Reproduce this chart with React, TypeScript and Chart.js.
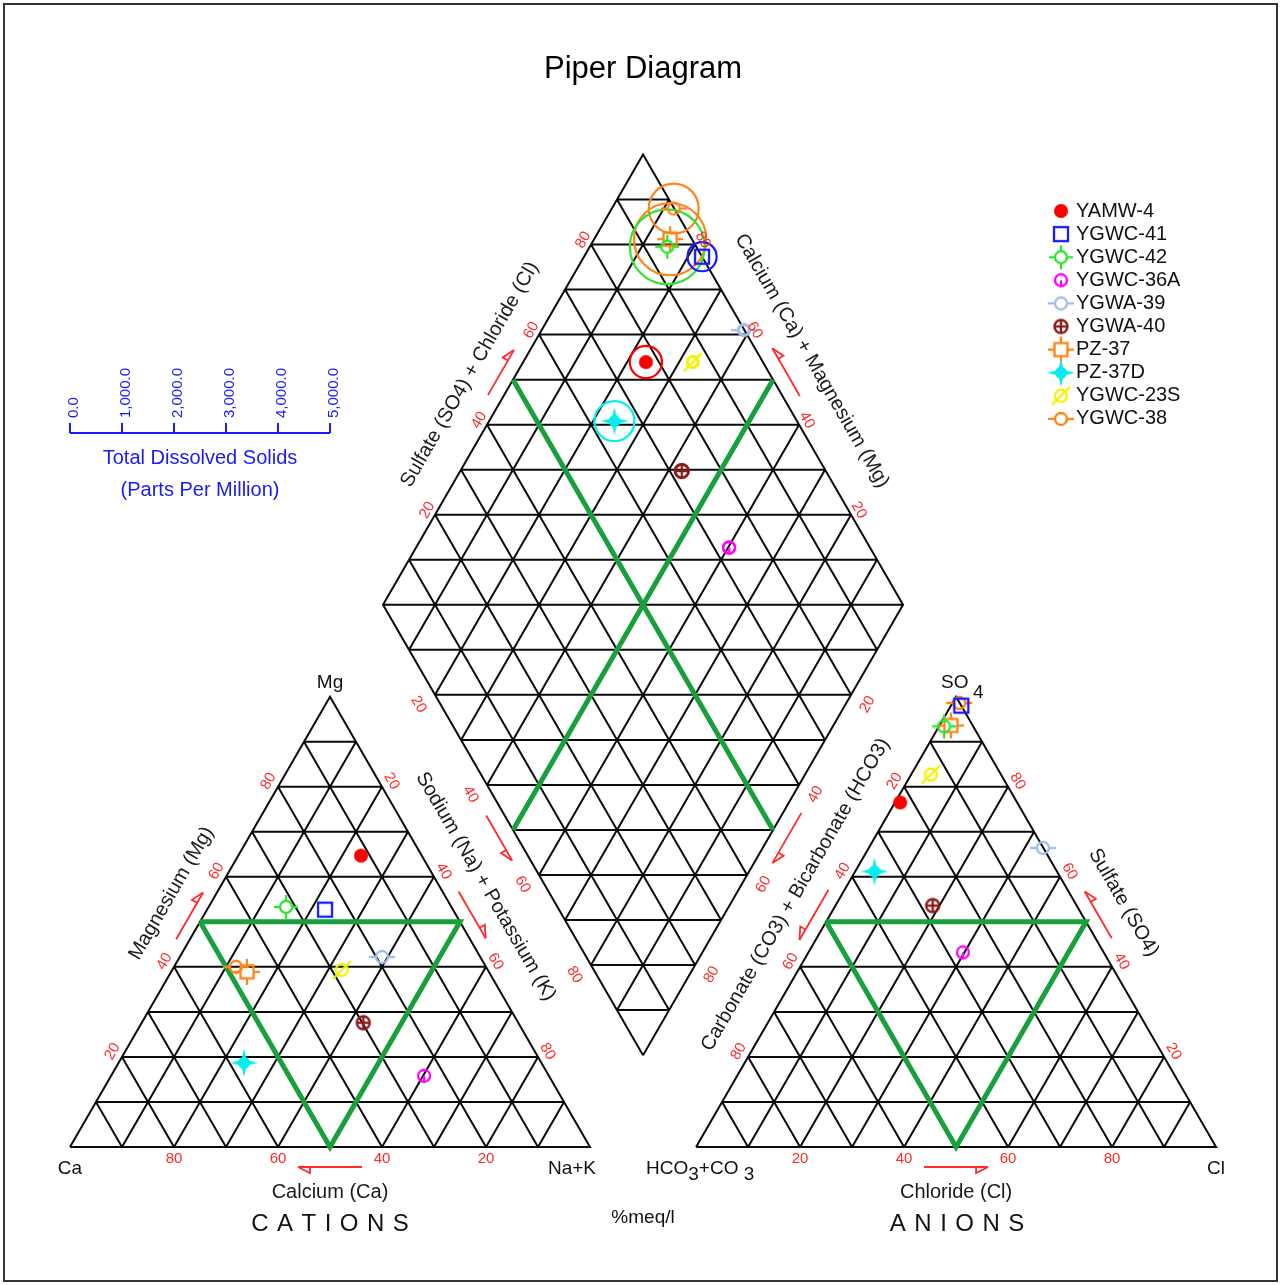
import React, { useEffect, useRef } from 'react';
import { Chart, registerables } from 'chart.js';

Chart.register(...registerables);

// ---------------- DATA ----------------
const sampleNames = ['YAMW-4', 'YGWC-41', 'YGWC-42', 'YGWC-36A', 'YGWA-39', 'YGWA-40', 'PZ-37', 'PZ-37D', 'YGWC-23S', 'YGWC-38'];
const sampleColors = ['#ff0000', '#1a1aff', '#2ee52e', '#ff00ff', '#9fbde8', '#8b1c1c', '#ff8419', '#00eeee', '#f2f200', '#ff8419'];
const markerKinds = ['dot', 'square', 'circleCross', 'circleStem', 'circleDash', 'circlePlus', 'squareCross', 'starDot', 'circleSlash', 'circleDash'];
// cations, % meq/l
const calciumPct = [11.7, 24.6, 31.8, 24.0, 18.9, 29.8, 46.5, 57.2, 28.1, 48.1];
const magnesiumPct = [64.7, 52.7, 53.3, 15.8, 42.2, 27.6, 38.9, 18.7, 39.3, 40.0];
const sodiumPotassiumPct = [23.6, 22.7, 14.9, 60.2, 38.9, 42.6, 14.6, 24.1, 32.6, 11.9];
// anions, % meq/l
const bicarbonatePct = [22.5, 0.0, 5.6, 27.1, 0.1, 27.7, 4.2, 35.1, 13.5, 0.1];
const sulfatePct = [76.5, 98.0, 93.4, 43.2, 66.4, 53.6, 93.6, 61.2, 82.7, 98.6];
const chloridePct = [1.0, 2.0, 1.0, 29.7, 33.5, 18.7, 2.2, 3.7, 3.8, 1.3];
// total dissolved solids, ppm
const tdsPpm = [620, 560, 1440, 230, 190, 270, 1390, 770, 190, 960];
const percentTicks = [20, 40, 60, 80];
const tdsTicks = [0, 1000, 2000, 3000, 4000, 5000];
const TDS_MAX = 5000;

// ---------------- LAYOUT (plot units, triangle side = 100) ----------------
const SIDE = 100;
const GAP = 20.4;
const R3 = Math.sqrt(3) / 2;
const TH = SIDE * R3;
const ANX = SIDE + GAP;
const CAT_L = { x: 0, y: 0 }, CAT_R = { x: SIDE, y: 0 }, CAT_T = { x: SIDE / 2, y: TH };
const AN_L = { x: ANX, y: 0 }, AN_R = { x: ANX + SIDE, y: 0 }, AN_T = { x: ANX + SIDE / 2, y: TH };
const DB = { x: SIDE + GAP / 2, y: GAP * R3 };
const DL = { x: DB.x - SIDE / 2, y: DB.y + TH };
const DR = { x: DB.x + SIDE / 2, y: DB.y + TH };
const DT = { x: DB.x, y: DB.y + 2 * TH };
const PXU = 5.2;
const ORIGIN = { x: 70, y: 1147 };
const W = 1281, H = 1285;
const X_MIN = -ORIGIN.x / PXU, X_MAX = (W - ORIGIN.x) / PXU;
const Y_MAX = ORIGIN.y / PXU, Y_MIN = -(H - ORIGIN.y) / PXU;
const TDS_BAR_Y = (ORIGIN.y - 433) / PXU;
const FONT = "'Liberation Sans', Arial, Helvetica, sans-serif";

const BREAK = { x: null, y: null };
const lerp = (a, b, t) => ({ x: a.x + (b.x - a.x) * t, y: a.y + (b.y - a.y) * t });

function cationXY(ca, mg, na) {
  const s = ca + mg + na;
  const m = (mg / s) * 100, n = (na / s) * 100;
  return { x: CAT_L.x + n + m / 2, y: m * R3 };
}
function anionXY(hc, so, cl) {
  const s = hc + so + cl;
  const o = (so / s) * 100, c = (cl / s) * 100;
  return { x: ANX + c + o / 2, y: o * R3 };
}
function diamondXY(i) {
  const cs = calciumPct[i] + magnesiumPct[i] + sodiumPotassiumPct[i];
  const as = bicarbonatePct[i] + sulfatePct[i] + chloridePct[i];
  const cm = ((calciumPct[i] + magnesiumPct[i]) / cs) * 100;
  const sc = ((sulfatePct[i] + chloridePct[i]) / as) * 100;
  return { x: DB.x + (sc - cm) / 2, y: DB.y + (cm + sc) * R3 };
}

function triGrid(L, R, T, out) {
  const seg = (a, b) => out.push(a, b, BREAK);
  for (let k = 1; k <= 9; k++) {
    const t = k / 10;
    seg(lerp(L, T, t), lerp(R, T, t));
    seg(lerp(L, R, t), lerp(R, T, 1 - t));
    seg(lerp(L, R, t), lerp(L, T, t));
  }
  out.push(L, R, T, L, BREAK);
}
function diaP(u, v) {
  return { x: DB.x + u * (DL.x - DB.x) + v * (DR.x - DB.x), y: DB.y + u * (DL.y - DB.y) + v * (DR.y - DB.y) };
}
function gridLines() {
  const out = [];
  triGrid(CAT_L, CAT_R, CAT_T, out);
  triGrid(AN_L, AN_R, AN_T, out);
  for (let k = 1; k <= 9; k++) {
    const t = k / 10;
    out.push(diaP(t, 0), diaP(t, 1), BREAK);
    out.push(diaP(0, t), diaP(1, t), BREAK);
  }
  for (let k = 1; k <= 19; k++) {
    const s = k / 10;
    if (s <= 1) out.push(diaP(s, 0), diaP(0, s), BREAK);
    else out.push(diaP(1, s - 1), diaP(s - 1, 1), BREAK);
  }
  out.push(DB, DL, DT, DR, DB, BREAK);
  return out;
}
function fieldLines() {
  const out = [];
  const med = (L, R, T) => {
    out.push(lerp(L, T, 0.5), lerp(R, T, 0.5), lerp(L, R, 0.5), lerp(L, T, 0.5), BREAK);
  };
  med(CAT_L, CAT_R, CAT_T);
  med(AN_L, AN_R, AN_T);
  out.push(lerp(DL, DT, 0.5), lerp(DR, DB, 0.5), BREAK);
  out.push(lerp(DR, DT, 0.5), lerp(DL, DB, 0.5), BREAK);
  return out;
}

function makeMarker(kind, color) {
  const c = document.createElement('canvas');
  c.width = 34; c.height = 34;
  const g = c.getContext('2d');
  g.strokeStyle = color; g.fillStyle = color; g.lineWidth = 2.3;
  const m = 17;
  const circle = (r, fill) => { g.beginPath(); g.arc(m, m, r, 0, Math.PI * 2); if (fill) g.fill(); else g.stroke(); };
  const line = (x1, y1, x2, y2) => { g.beginPath(); g.moveTo(m + x1, m + y1); g.lineTo(m + x2, m + y2); g.stroke(); };
  switch (kind) {
    case 'dot': circle(7, true); break;
    case 'square': g.strokeRect(m - 7, m - 7, 14, 14); break;
    case 'circleCross':
      circle(6, false); line(-12, 0, -6, 0); line(6, 0, 12, 0); line(0, -12, 0, -6); line(0, 6, 0, 12); break;
    case 'circleStem': circle(6, false); line(0, 0, 0, 6); break;
    case 'circleDash': circle(6, false); line(-13, 0, -6, 0); line(6, 0, 13, 0); break;
    case 'circlePlus': g.lineWidth = 2.4; circle(6.5, false); line(-6.5, 0, 6.5, 0); line(0, -6.5, 0, 6.5); break;
    case 'squareCross':
      g.strokeRect(m - 6.5, m - 6.5, 13, 13); line(-13, 0, -6.5, 0); line(6.5, 0, 13, 0); line(0, -13, 0, -6.5); line(0, 6.5, 0, 13); break;
    case 'starDot': {
      circle(6, true);
      const pts = [[0, -14], [2.7, -2.7], [14, 0], [2.7, 2.7], [0, 14], [-2.7, 2.7], [-14, 0], [-2.7, -2.7]];
      g.beginPath(); pts.forEach((p, i) => (i ? g.lineTo(m + p[0], m + p[1]) : g.moveTo(m + p[0], m + p[1]))); g.closePath(); g.fill();
      break;
    }
    case 'circleSlash': circle(6, false); line(-9, 9, 9, -9); break;
  }
  return c;
}

const EDGES = [
  { a: CAT_R, b: CAT_L, cen: 'cat', tick: 12, arrow: 20, len: 64, title: 'Calcium (Ca)', titleOff: 45, f: 0.5 },
  { a: CAT_L, b: CAT_T, cen: 'cat', tick: 11, arrow: 12, len: 54, title: 'Magnesium (Mg)', titleOff: 39, f: 0.52 },
  { a: CAT_T, b: CAT_R, cen: 'cat', tick: 11, arrow: 14, len: 54, title: 'Sodium (Na) + Potassium (K)', titleOff: 40, f: 0.466 },
  { a: AN_L, b: AN_R, cen: 'an', tick: 12, arrow: 20, len: 64, title: 'Chloride (Cl)', titleOff: 45, f: 0.5 },
  { a: AN_T, b: AN_L, cen: 'an', tick: 11, arrow: 14, len: 58, title: 'Carbonate (CO3) + Bicarbonate (HCO3)', titleOff: 40, f: 0.484 },
  { a: AN_R, b: AN_T, cen: 'an', tick: 11, arrow: 14, len: 54, title: 'Sulfate (SO4)', titleOff: 42, f: 0.496 },
  { a: DL, b: DT, cen: 'dia', tick: 9, arrow: 14, len: 52, title: 'Sulfate (SO4) + Chloride (Cl)', titleOff: 40, f: 0.467 },
  { a: DR, b: DT, cen: 'dia', tick: 9, arrow: 15, len: 55, title: 'Calcium (Ca) + Magnesium (Mg)', titleOff: 43, f: 0.494 },
  { a: DL, b: DB, cen: 'dia', tick: 19, arrow: 16, len: 52, title: null, titleOff: 0, f: 0.5 },
  { a: DR, b: DB, cen: 'dia', tick: 19, arrow: 16, len: 58, title: null, titleOff: 0, f: 0.5 },
];
const CENTROIDS = {
  cat: { x: SIDE / 2, y: TH / 3 },
  an: { x: ANX + SIDE / 2, y: TH / 3 },
  dia: { x: DB.x, y: DB.y + TH },
};

function spacedText(ctx, text, cx, cy, spacing) {
  const widths = text.split('').map((ch) => ctx.measureText(ch).width);
  const total = widths.reduce((s, w) => s + w, 0) + spacing * (text.length - 1);
  let x = cx - total / 2;
  ctx.textAlign = 'left';
  text.split('').forEach((ch, i) => { ctx.fillText(ch, x, cy); x += widths[i] + spacing; });
}

const piperPlugin = {
  id: 'piperDecor',
  afterDraw(chart) {
    const ctx = chart.ctx;
    const sx = chart.scales.x, sy = chart.scales.y;
    const P = (p) => ({ x: sx.getPixelForValue(p.x), y: sy.getPixelForValue(p.y) });
    ctx.save();

    // frame
    ctx.strokeStyle = '#333'; ctx.lineWidth = 2;
    ctx.strokeRect(4, 4, W - 8, H - 8);

    // title
    ctx.fillStyle = '#000'; ctx.textAlign = 'center'; ctx.textBaseline = 'middle';
    ctx.font = `31px ${FONT}`;
    ctx.fillText('Piper Diagram', P(DT).x, 69);

    // edges: ticks, arrows, titles
    EDGES.forEach((e) => {
      const pa = P(e.a), pb = P(e.b), pc = P(CENTROIDS[e.cen]);
      const dx = pb.x - pa.x, dy = pb.y - pa.y, L = Math.hypot(dx, dy);
      const t = { x: dx / L, y: dy / L };
      let n = { x: -t.y, y: t.x };
      const mid = { x: (pa.x + pb.x) / 2, y: (pa.y + pb.y) / 2 };
      if ((mid.x - pc.x) * n.x + (mid.y - pc.y) * n.y < 0) n = { x: -n.x, y: -n.y };
      let ang = Math.atan2(t.y, t.x);
      if (ang > Math.PI / 2 + 0.01) ang -= Math.PI;
      if (ang < -Math.PI / 2 - 0.01) ang += Math.PI;
      const at = (f, off) => ({ x: pa.x + t.x * L * f + n.x * off, y: pa.y + t.y * L * f + n.y * off });

      ctx.fillStyle = '#ff2a2a';
      ctx.font = `15px ${FONT}`;
      ctx.textAlign = 'center'; ctx.textBaseline = 'middle';
      percentTicks.forEach((v) => {
        const q = at(v / 100, e.tick);
        ctx.save(); ctx.translate(q.x, q.y); ctx.rotate(ang); ctx.fillText(String(v), 0, 0); ctx.restore();
      });

      const c = at(0.5, e.arrow);
      const tip = { x: c.x + t.x * e.len / 2, y: c.y + t.y * e.len / 2 };
      const tail = { x: c.x - t.x * e.len / 2, y: c.y - t.y * e.len / 2 };
      ctx.strokeStyle = '#ff2a2a'; ctx.lineWidth = 1.8;
      ctx.beginPath(); ctx.moveTo(tail.x, tail.y); ctx.lineTo(tip.x, tip.y); ctx.stroke();
      ctx.beginPath();
      ctx.moveTo(tip.x, tip.y);
      ctx.lineTo(tip.x - t.x * 12 + n.x * 6, tip.y - t.y * 12 + n.y * 6);
      ctx.lineTo(tip.x - t.x * 12, tip.y - t.y * 12);
      ctx.stroke();

      if (e.title) {
        const q = at(e.f, e.titleOff);
        ctx.fillStyle = '#1a1a1a';
        ctx.font = `20px ${FONT}`;
        ctx.save(); ctx.translate(q.x, q.y); ctx.rotate(ang); ctx.fillText(e.title, 0, 0); ctx.restore();
      }
    });

    // corner labels
    ctx.fillStyle = '#111'; ctx.font = `19px ${FONT}`; ctx.textAlign = 'center'; ctx.textBaseline = 'middle';
    const cT = P(CAT_T), cL = P(CAT_L), cR = P(CAT_R), aL = P(AN_L), aR = P(AN_R), aT = P(AN_T);
    ctx.fillText('Mg', cT.x, cT.y - 14);
    ctx.fillText('Ca', cL.x, cL.y + 22);
    ctx.fillText('Na+K', cR.x - 18, cR.y + 22);
    ctx.fillText('Cl', aR.x, aR.y + 22);
    ctx.textAlign = 'left';
    ctx.fillText('SO', aT.x - 15, aT.y - 14);
    ctx.fillText('4', aT.x + 17, aT.y - 4);
    let x = aL.x - 50;
    const by = aL.y + 22;
    const parts = [['HCO', 0], ['3', 6], ['+CO ', 0], ['3', 6]];
    parts.forEach(([s, dy]) => { ctx.fillText(s, x, by + dy); x += ctx.measureText(s).width; });

    // panel names
    ctx.textAlign = 'center';
    ctx.font = `24px ${FONT}`;
    spacedText(ctx, 'CATIONS', P(lerp(CAT_L, CAT_R, 0.5)).x, 1224, 8.5);
    spacedText(ctx, 'ANIONS', P(lerp(AN_L, AN_R, 0.5)).x + 1, 1224, 8.5);
    ctx.textAlign = 'center';
    ctx.font = `19px ${FONT}`;
    ctx.fillText('%meq/l', P(DB).x, 1218);

    // TDS scale
    const blue = '#1a1af2';
    const b0 = P({ x: 0, y: TDS_BAR_Y }), b1 = P({ x: SIDE / 2, y: TDS_BAR_Y });
    ctx.strokeStyle = blue; ctx.fillStyle = blue; ctx.lineWidth = 2;
    ctx.beginPath(); ctx.moveTo(b0.x, b0.y); ctx.lineTo(b1.x, b1.y); ctx.stroke();
    ctx.font = `15px ${FONT}`;
    tdsTicks.forEach((v) => {
      const px = b0.x + (b1.x - b0.x) * (v / TDS_MAX);
      ctx.beginPath(); ctx.moveTo(px, b0.y); ctx.lineTo(px, b0.y - 10); ctx.stroke();
      const label = v.toLocaleString('en-US', { minimumFractionDigits: 1, maximumFractionDigits: 1 });
      ctx.save(); ctx.translate(px + 4, b0.y - 15); ctx.rotate(-Math.PI / 2);
      ctx.textAlign = 'left'; ctx.textBaseline = 'middle'; ctx.fillText(label, 0, 0); ctx.restore();
    });
    ctx.font = `20px ${FONT}`; ctx.textAlign = 'center'; ctx.textBaseline = 'middle';
    ctx.fillText('Total Dissolved Solids', (b0.x + b1.x) / 2, b0.y + 25);
    ctx.fillText('(Parts Per Million)', (b0.x + b1.x) / 2, b0.y + 57);

    // legend
    ctx.font = `20px ${FONT}`; ctx.fillStyle = '#111'; ctx.textAlign = 'left'; ctx.textBaseline = 'middle';
    sampleNames.forEach((name, i) => {
      const y = 211 + i * 23.1;
      const img = chart.data.datasets[i].pointStyle;
      ctx.drawImage(img, 1061 - img.width / 2, y - img.height / 2);
      ctx.fillText(name, 1076, y);
    });

    ctx.restore();
  },
};

export default function App() {
  const ref = useRef(null);
  useEffect(() => {
    const canvas = ref.current;
    const datasets = [];
    sampleNames.forEach((name, i) => {
      datasets.push({
        label: name,
        data: [
          cationXY(calciumPct[i], magnesiumPct[i], sodiumPotassiumPct[i]),
          anionXY(bicarbonatePct[i], sulfatePct[i], chloridePct[i]),
          diamondXY(i),
        ],
        pointStyle: makeMarker(markerKinds[i], sampleColors[i]),
        pointRadius: 8,
        showLine: false,
        order: 0,
      });
    });
    sampleNames.forEach((name, i) => {
      datasets.push({
        label: name + ' TDS',
        data: [diamondXY(i)],
        pointStyle: 'circle',
        pointRadius: (c) => {
          const s = c.chart.scales.x;
          const span = Math.abs(s.getPixelForValue(SIDE / 2) - s.getPixelForValue(0));
          const r = ((tdsPpm[i] / TDS_MAX) * span) / 2;
          return isFinite(r) ? r : 1;
        },
        pointBorderColor: sampleColors[i],
        pointBackgroundColor: 'rgba(0,0,0,0)',
        pointBorderWidth: 2.2,
        showLine: false,
        order: 1,
      });
    });
    datasets.push({
      label: 'fields', data: fieldLines(), showLine: true, spanGaps: false,
      borderColor: '#18a03c', borderWidth: 5, pointRadius: 0, tension: 0, order: 2,
    });
    datasets.push({
      label: 'grid', data: gridLines(), showLine: true, spanGaps: false,
      borderColor: '#0a0a0a', borderWidth: 2, pointRadius: 0, tension: 0, order: 3,
    });

    const chart = new Chart(canvas, {
      type: 'scatter',
      data: { datasets },
      options: {
        animation: false,
        responsive: false,
        devicePixelRatio: 1,
        events: [],
        layout: { padding: 0, autoPadding: false },
        scales: {
          x: { type: 'linear', min: X_MIN, max: X_MAX, display: false },
          y: { type: 'linear', min: Y_MIN, max: Y_MAX, display: false },
        },
        plugins: { legend: { display: false }, tooltip: { enabled: false }, title: { display: false } },
      },
      plugins: [piperPlugin],
    });
    return () => chart.destroy();
  }, []);

  return (
    <div style={{ position: 'absolute', left: 0, top: 0, width: W, height: H, background: '#fff' }}>
      <canvas ref={ref} width={W} height={H} style={{ display: 'block' }} />
    </div>
  );
}
